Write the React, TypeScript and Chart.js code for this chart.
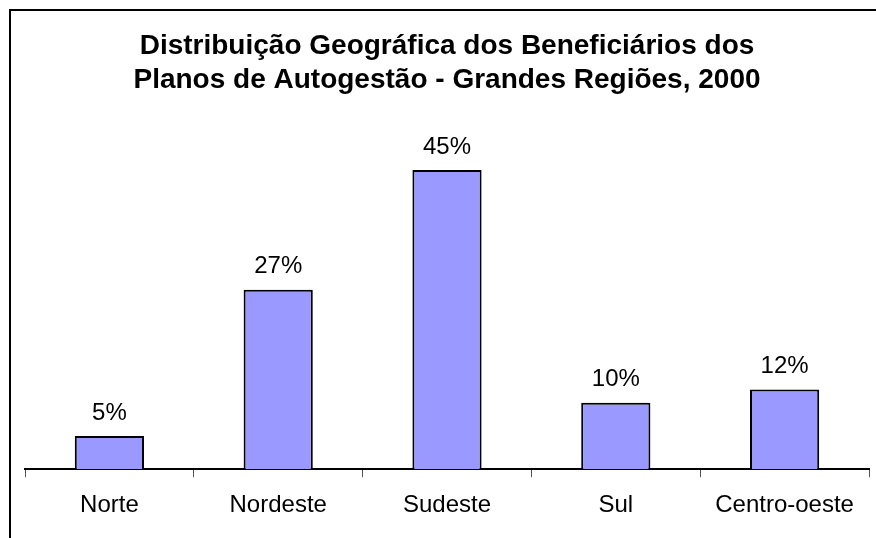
import React, { useEffect, useRef } from "react";
import { Chart, registerables } from "chart.js";

Chart.register(...registerables);

const categories = ["Norte", "Nordeste", "Sudeste", "Sul", "Centro-oeste"];
const shares = [5, 27, 45, 10, 12];
const titleLines = [
  "Distribuição Geográfica dos Beneficiários dos",
  "Planos de Autogestão - Grandes Regiões, 2000",
];

const FONT = "'Liberation Sans', Arial, Helvetica, sans-serif";

const frame = {
  id: "frame",
  beforeDraw(chart: any) {
    const ctx = chart.ctx;
    ctx.save();
    ctx.fillStyle = "#ffffff";
    ctx.fillRect(0, 0, chart.width, chart.height);
    ctx.strokeStyle = "#000000";
    ctx.lineWidth = 2;
    ctx.beginPath();
    ctx.moveTo(10, chart.height);
    ctx.lineTo(10, 10);
    ctx.lineTo(chart.width, 10);
    ctx.stroke();
    ctx.restore();
  },
};

const valueLabels = {
  id: "valueLabels",
  afterDatasetsDraw(chart: any) {
    const ctx = chart.ctx;
    const meta = chart.getDatasetMeta(0);
    ctx.save();
    ctx.fillStyle = "#000000";
    ctx.font = `24px ${FONT}`;
    ctx.textAlign = "center";
    ctx.textBaseline = "middle";
    meta.data.forEach((bar: any, i: number) => {
      ctx.fillText(`${shares[i]}%`, bar.x, bar.y - 23);
    });
    ctx.restore();
  },
};

export default function App() {
  const ref = useRef<HTMLCanvasElement>(null);
  useEffect(() => {
    if (!ref.current) return;
    const chart = new Chart(ref.current, {
      type: "bar",
      data: {
        labels: categories,
        datasets: [
          {
            data: shares,
            backgroundColor: "#9999FF",
            borderColor: "#000000",
            borderWidth: 2,
            categoryPercentage: 1,
            barPercentage: 0.41,
          },
        ],
      },
      options: {
        animation: false,
        responsive: false,
        layout: { padding: { left: 25, right: 7, top: 0, bottom: 4 } },
        plugins: {
          legend: { display: false },
          tooltip: { enabled: false },
          title: {
            display: true,
            text: titleLines,
            color: "#000000",
            font: { family: FONT, size: 28, weight: "bold", lineHeight: 1.21 },
            padding: { top: 29, bottom: 40 },
          },
        },
        scales: {
          x: {
            grid: {
              display: true,
              drawOnChartArea: false,
              drawTicks: true,
              tickLength: 8,
              color: "#555555",
              offset: true,
            },
            border: { display: true, color: "#000000", width: 2 },
            ticks: {
              color: "#000000",
              font: { family: FONT, size: 24 },
              padding: 14,
            },
          },
          y: {
            display: false,
            min: 0,
            max: 50,
          },
        },
      },
      plugins: [frame, valueLabels],
    });
    return () => chart.destroy();
  }, []);
  return (
    <div style={{ position: "fixed", left: 0, top: 0, width: 876, height: 538 }}>
      <canvas ref={ref} width={876} height={538} style={{ display: "block" }} />
    </div>
  );
}
